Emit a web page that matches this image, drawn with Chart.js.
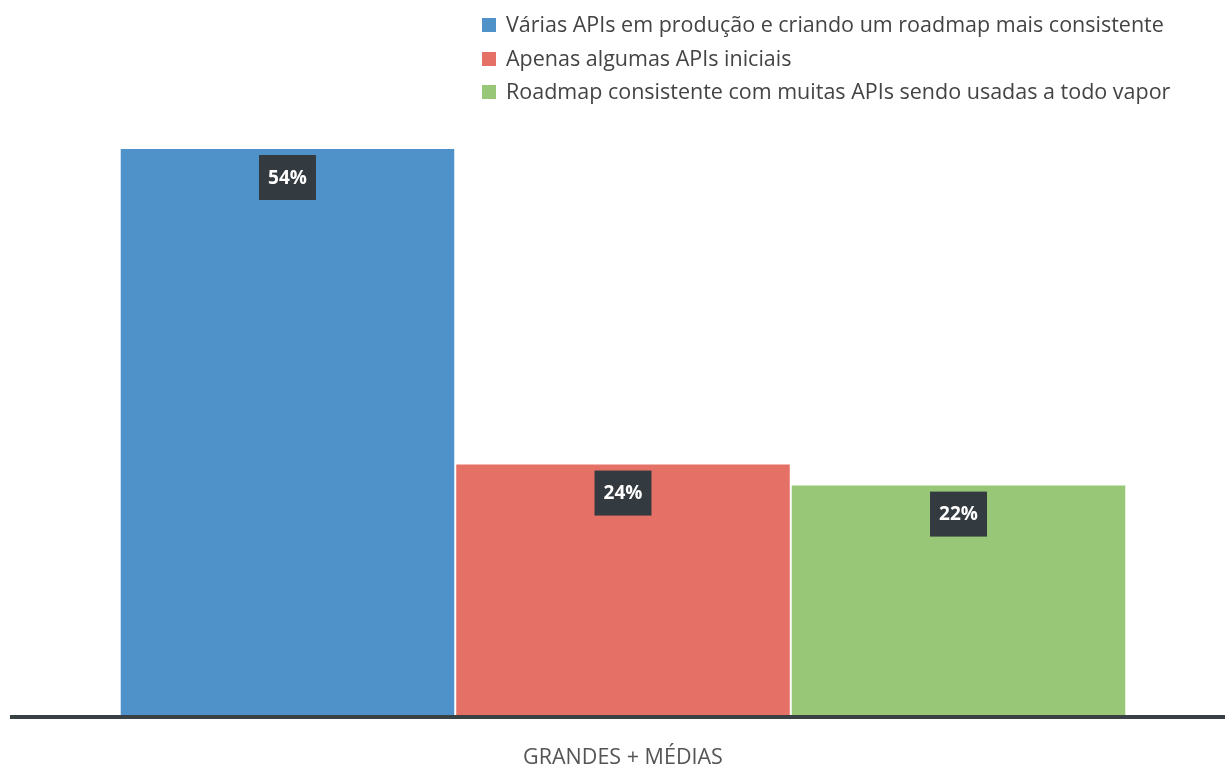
<!DOCTYPE html>
<html>
<head>
<meta charset="utf-8">
<script src="https://cdn.jsdelivr.net/npm/chart.js@4.4.1/dist/chart.umd.min.js"></script>
<style>
  body { margin: 0; background: #fff; font-family: 'Open Sans', sans-serif; }
  .wrap { position: relative; width: 1225px; height: 764px; }
  #legend { position: absolute; left: 482px; top: 8px; list-style: none; margin: 0; padding: 0; }
  #legend li { height: 33.5px; line-height: 32px; font-size: 21.5px; color: #444; white-space: nowrap; }
  #legend span { display: inline-block; width: 14px; height: 14px; margin-right: 10px; vertical-align: 0px; }
</style>
</head>
<body>
<div class="wrap">
  <canvas id="myChart" width="1225" height="764"></canvas>
  <ul id="legend"></ul>
</div>
<script>
const categories = ['GRANDES + MÉDIAS'];
const seriesNames = [
  'Várias APIs em produção e criando um roadmap mais consistente',
  'Apenas algumas APIs iniciais',
  'Roadmap consistente com muitas APIs sendo usadas a todo vapor'
];
const seriesValues = [[54], [24], [22]];
const colors = ['#4f92c9', '#e57065', '#97c777'];

// подписи на столбцах (тёмные плашки) и линия оси
const labelBoxes = {
  id: 'labelBoxes',
  afterDatasetsDraw(chart) {
    const c = chart.ctx;
    const area = chart.chartArea;
    c.save();
    c.fillStyle = '#3a4145';
    c.fillRect(area.left - 11, area.bottom - 1, area.right - area.left + 11, 4);
    chart.data.datasets.forEach((ds, i) => {
      chart.getDatasetMeta(i).data.forEach((bar, j) => {
        const txt = ds.data[j] + '%';
        const w = 57, h = 45;
        const x = bar.x - w / 2, y = bar.y + 7;
        c.fillStyle = '#343b40';
        c.fillRect(x, y, w, h);
        c.fillStyle = '#fff';
        c.font = 'bold 19px "Open Sans"';
        c.textAlign = 'center';
        c.textBaseline = 'middle';
        c.fillText(txt, bar.x, y + h / 2 + 1);
      });
    });
    c.restore();
  }
};

const ctx = document.getElementById('myChart').getContext('2d');

const myChart = new Chart(ctx, {
  type: 'bar',
  data: {
    labels: categories,
    datasets: seriesNames.map((name, i) => ({
      label: name,
      data: seriesValues[i],
      backgroundColor: colors[i],
      borderColor: 'rgba(255,255,255,0.55)',
      borderWidth: 1,
      categoryPercentage: 0.836,
      barPercentage: 1
    }))
  },
  options: {
    responsive: false,
    animation: false,
    layout: { padding: { top: 148, left: 21, right: 0, bottom: 0 } },
    plugins: {
      legend: { display: false },
      tooltip: { enabled: false }
    },
    scales: {
      x: {
        grid: { display: false },
        border: { display: false },
        afterFit: (scale) => { scale.height = 48; },
        ticks: {
          padding: 21,
          color: '#555',
          font: { family: 'Open Sans', size: 21.5 }
        }
      },
      y: {
        display: false,
        min: 0,
        max: 54
      }
    }
  },
  plugins: [labelBoxes]
});

const legend = document.getElementById('legend');
seriesNames.forEach((name, i) => {
  const li = document.createElement('li');
  li.innerHTML = '<span style="background:' + colors[i] + '"></span>' + name;
  legend.appendChild(li);
});
</script>
</body>
</html>
